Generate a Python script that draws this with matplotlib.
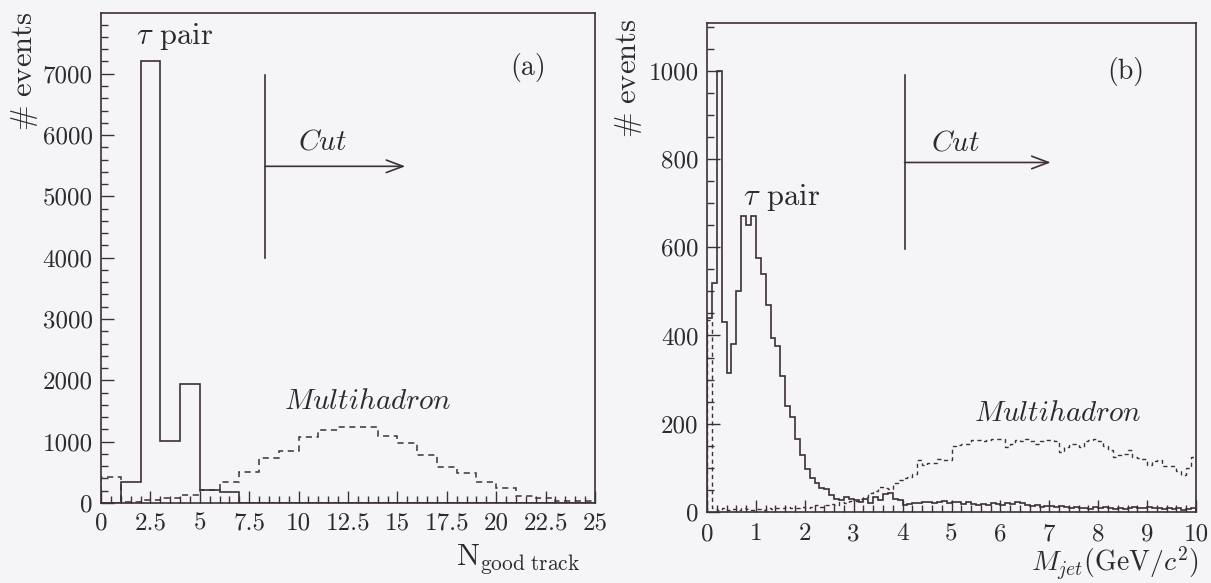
import numpy as np
import matplotlib
matplotlib.use("Agg")
import matplotlib.pyplot as plt
from matplotlib.ticker import MultipleLocator, FuncFormatter

# ---------------- data ----------------
# Panel (a): N_good track, unit-width bins 0..25
ntrk_edges = list(range(0, 26))
ntrk_tau = [0, 347, 7200, 1006, 1940, 210, 180, 8, 5, 3, 2, 1, 0,
            0, 0, 0, 0, 0, 0, 0, 0, 0, 0, 0, 0]
ntrk_mh = [420, 20, 55, 75, 130, 212, 337, 511, 740, 853, 1082, 1190, 1245,
           1240, 1098, 984, 783, 592, 494, 347, 239, 114, 76, 38, 30]

# Panel (b): M_jet, 0.1 GeV bins 0..10
mjet_edges = [i / 10 for i in range(0, 101)]
mjet_tau = [440, 520, 1000, 430, 315, 380, 500, 670, 650, 670,
            575, 540, 470, 395, 375, 308, 240, 215, 165, 130,
            97, 78, 66, 55, 52, 38, 30, 28, 33, 30,
            27, 22, 30, 20, 35, 28, 40, 42, 30, 28,
            15, 18, 20, 20, 22, 22, 20, 22, 25, 20,
            22, 22, 18, 22, 18, 16, 18, 16, 20, 18,
            16, 20, 18, 22, 20, 15, 14, 16, 12, 14,
            14, 12, 14, 12, 10, 12, 8, 10, 6, 12,
            10, 12, 8, 6, 10, 6, 8, 12, 10, 8,
            12, 8, 10, 6, 10, 6, 8, 4, 6, 10]
mjet_mh = [435, 10, 5, 8, 5, 6, 5, 8, 6, 5,
           6, 5, 8, 6, 10, 8, 12, 10, 8, 12,
           10, 12, 15, 12, 15, 18, 15, 22, 20, 25,
           25, 30, 35, 42, 48, 57, 55, 52, 65, 72,
           78, 80, 87, 118, 107, 110, 112, 120, 118, 117,
           150, 152, 155, 155, 163, 163, 160, 163, 165, 165,
           165, 148, 155, 163, 160, 165, 160, 155, 160, 163,
           163, 160, 135, 148, 155, 155, 148, 160, 163, 165,
           160, 150, 140, 125, 130, 132, 140, 125, 122, 120,
           107, 115, 117, 104, 104, 104, 92, 84, 99, 125]

# ---------------- style ----------------
plt.rcParams['font.family'] = ['cmr10', 'DejaVu Serif']
plt.rcParams['mathtext.fontset'] = 'cm'
plt.rcParams['axes.formatter.use_mathtext'] = True
plt.rcParams['axes.unicode_minus'] = False

INK = '#3d3036'
TXT = '#2e2a2c'
BG = '#f5f5f7'

fig = plt.figure(figsize=(12.11, 5.83), dpi=100, facecolor=BG)

def style_axes(ax, xpad):
    ax.set_facecolor(BG)
    for s in ax.spines.values():
        s.set_color(INK)
        s.set_linewidth(1.2)
    ax.tick_params(which='both', direction='in', top=False, right=False,
                   color=INK, labelcolor=TXT, labelsize=18, width=1.0)
    ax.tick_params(which='major', length=9)
    ax.tick_params(which='minor', length=5)
    ax.tick_params(axis='x', pad=xpad)
    ax.tick_params(axis='y', pad=6)

fmt = FuncFormatter(lambda v, p: f'{v:g}')
dash = (0, (4, 3))

# ---------- panel (a) ----------
axa = fig.add_axes([101 / 1211, 1 - 503 / 583, 494 / 1211, 490 / 583])
style_axes(axa, 7)
axa.stairs(ntrk_mh, ntrk_edges, color=INK, lw=1.1, linestyle=dash)
axa.stairs(ntrk_tau, ntrk_edges, color=INK, lw=1.2)
axa.set_xlim(0, 25)
axa.set_ylim(0, 7990)
axa.xaxis.set_major_locator(MultipleLocator(2.5))
axa.xaxis.set_minor_locator(MultipleLocator(0.5))
axa.yaxis.set_major_locator(MultipleLocator(1000))
axa.yaxis.set_minor_locator(MultipleLocator(200))
axa.xaxis.set_major_formatter(fmt)
axa.yaxis.set_major_formatter(fmt)

axa.text(1.75, 7600, r'$\tau$ pair', fontsize=22, color=TXT, va='center', ha='left')
axa.text(21.6, 7100, '(a)', fontsize=20, color=TXT, va='center', ha='center')
axa.plot([8.3, 8.3], [4000, 6980], color=INK, lw=1.2)
axa.annotate('', xy=(15.4, 5490), xytext=(8.3, 5490),
             arrowprops=dict(arrowstyle='->,head_length=1.2,head_width=0.45',
                             color=INK, lw=1.2, shrinkA=0, shrinkB=0))
axa.text(11.2, 5880, r'$Cut$', fontsize=21, color=TXT, va='center', ha='center')
axa.text(13.5, 1650, r'$Multihadron$', fontsize=21, color=TXT, va='center', ha='center')

fig.text(25 / 1211, 1 - 12 / 583, r'$\#\ \mathrm{events}$', rotation=90,
         fontsize=22, color=TXT, ha='center', va='top')
fig.text(456 / 1211, 1 - 565 / 583, r'$\mathrm{N}_{\mathrm{good\ track}}$',
         fontsize=22, color=TXT, ha='left', va='baseline')

# ---------- panel (b) ----------
axb = fig.add_axes([707 / 1211, 1 - 512 / 583, 489 / 1211, 489 / 583])
style_axes(axb, 8)
axb.stairs(mjet_mh, mjet_edges, color=INK, lw=1.0, linestyle=(0, (3, 2.5)))
axb.stairs(mjet_tau, mjet_edges, color=INK, lw=1.2)
axb.set_xlim(0, 10)
axb.set_ylim(0, 1108)
axb.xaxis.set_major_locator(MultipleLocator(1))
axb.xaxis.set_minor_locator(MultipleLocator(0.2))
axb.yaxis.set_major_locator(MultipleLocator(200))
axb.yaxis.set_minor_locator(MultipleLocator(50))
axb.xaxis.set_major_formatter(fmt)
axb.yaxis.set_major_formatter(fmt)

axb.text(0.74, 712, r'$\tau$ pair', fontsize=22, color=TXT, va='center', ha='left')
axb.text(8.57, 997, '(b)', fontsize=20, color=TXT, va='center', ha='center')
axb.plot([4.04, 4.04], [596, 990], color=INK, lw=1.2)
axb.annotate('', xy=(7.03, 792), xytext=(4.04, 792),
             arrowprops=dict(arrowstyle='->,head_length=1.2,head_width=0.45',
                             color=INK, lw=1.2, shrinkA=0, shrinkB=0))
axb.text(5.08, 835, r'$Cut$', fontsize=21, color=TXT, va='center', ha='center')
axb.text(7.17, 223, r'$Multihadron$', fontsize=21, color=TXT, va='center', ha='center')

fig.text(628 / 1211, 1 - 19 / 583, r'$\#\ \mathrm{events}$', rotation=90,
         fontsize=22, color=TXT, ha='center', va='top')
fig.text(1199 / 1211, 1 - 571 / 583, r'$M_{jet}(\mathrm{GeV}/c^2)$',
         fontsize=20, color=TXT, ha='right', va='baseline')

fig.savefig('out.png', dpi=100, facecolor=BG)
